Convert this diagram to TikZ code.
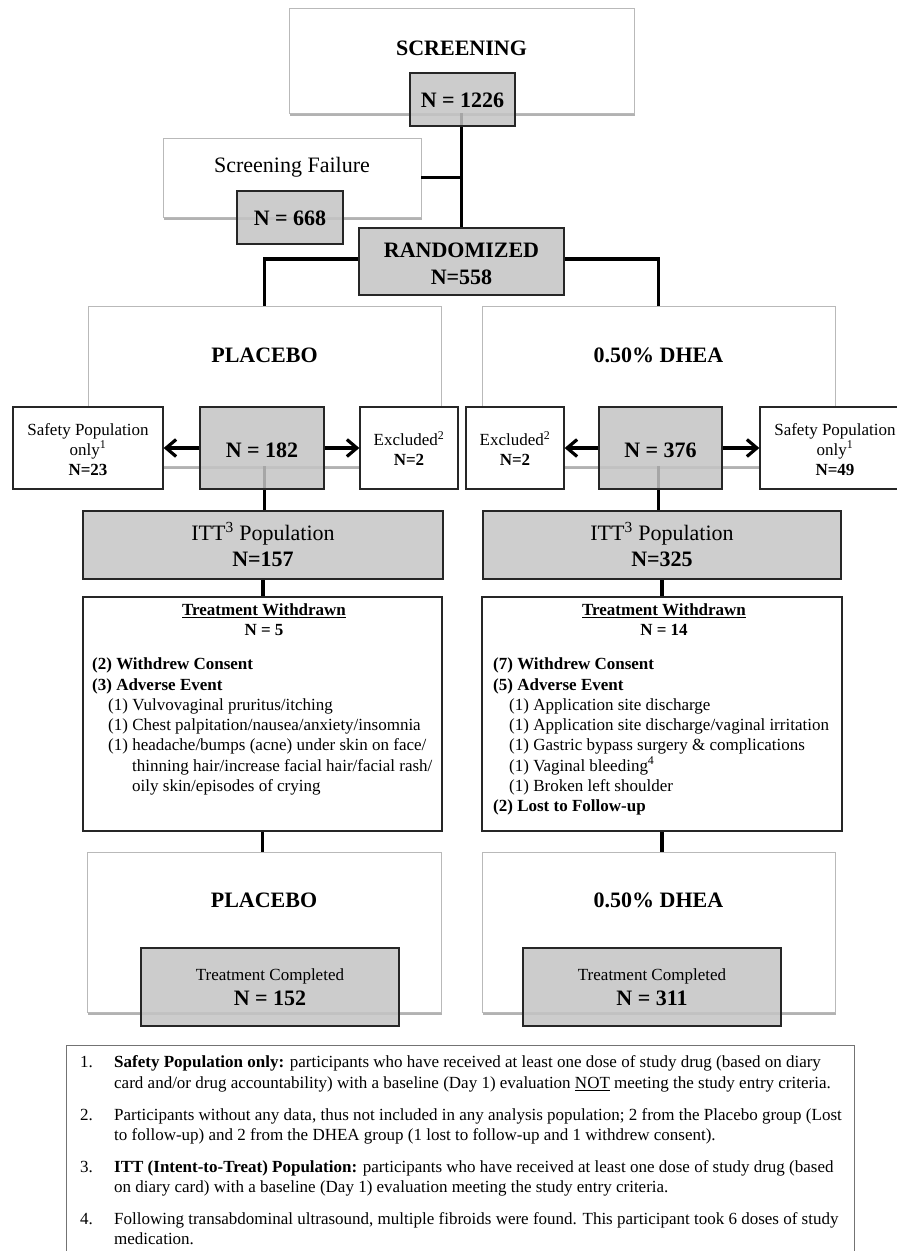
\documentclass[tikz,border=0pt]{standalone}
\usepackage{fontspec}
\setmainfont{Liberation Serif}
\usetikzlibrary{arrows.meta,shadows}
\definecolor{boxgray}{RGB}{196,196,196}
\definecolor{ittgray}{RGB}{206,206,206}
\newcommand\FBig{\fontsize{22}{26}\selectfont}
\newcommand\FMid{\fontsize{17}{20}\selectfont}
\pgfdeclarelayer{paper}
\pgfdeclarelayer{back}
\pgfdeclarelayer{mid}
\pgfsetlayers{paper,back,mid,main}
\begin{document}
\begin{tikzpicture}[x=1pt,y=-1pt,
  bigbox/.style={draw=gray!55, line width=0.8pt, fill=white, inner sep=0pt,
    drop shadow={shadow xshift=1pt, shadow yshift=-2.5pt, fill=black, opacity=0.3}},
  graybox/.style={draw=black!85, line width=1.3pt, fill=boxgray, fill opacity=0.85, inner sep=0pt},
  ittbox/.style={draw=black!85, line width=1.3pt, fill=ittgray, inner sep=0pt},
  whitebox/.style={draw=black!85, line width=1.3pt, fill=white, inner sep=0pt},
  conn/.style={line width=3.2pt, black},
  arr/.style={conn, -{Straight Barb[length=10pt,width=17pt]}},
  txt/.style={inner sep=0pt, anchor=base},
  txtl/.style={inner sep=0pt, anchor=base west},
  big/.style={txt, font=\FBig},
  bigb/.style={txt, font=\FBig\bfseries},
  mid/.style={txt, font=\FMid},
  midb/.style={txt, font=\FMid\bfseries},
  li/.style={txtl, font=\FMid},
  lib/.style={txtl, font=\FMid\bfseries}]
\useasboundingbox (0,0) rectangle (897,1251);
\begin{pgfonlayer}{paper}
\fill[white] (0,0) rectangle (897,1251);
\end{pgfonlayer}

% big shadowed boxes
\begin{pgfonlayer}{back}
\node[bigbox, minimum width=345pt, minimum height=105pt] (scr) at (461.5,60.5) {};
\node[bigbox, minimum width=258pt, minimum height=79pt] (sf) at (292,177.5) {};
\node[bigbox, minimum width=353pt, minimum height=160pt] (plac) at (264.5,386) {};
\node[bigbox, minimum width=353pt, minimum height=160pt] (dhea) at (658.5,386) {};
\node[bigbox, minimum width=354pt, minimum height=160pt] (plac2) at (264,932) {};
\node[bigbox, minimum width=353pt, minimum height=160pt] (dhea2) at (658.5,932) {};
\end{pgfonlayer}

% small boxes
\node[graybox, minimum width=105pt, minimum height=53pt] (n1226) at (462.5,99.5) {};
\node[graybox, minimum width=106pt, minimum height=53pt] (n668) at (290,217.5) {};
\node[graybox, minimum width=205pt, minimum height=67pt] (rand) at (461.5,261.5) {};
\node[graybox, minimum width=124pt, minimum height=82pt] (n182) at (262,448) {};
\node[graybox, minimum width=123pt, minimum height=82pt] (n376) at (660.5,448) {};
\node[ittbox, minimum width=360pt, minimum height=68pt] (itt1) at (263,545) {};
\node[ittbox, minimum width=358pt, minimum height=68pt] (itt2) at (662,545) {};
\node[graybox, minimum width=258pt, minimum height=78pt] (tc1) at (270,987) {};
\node[graybox, minimum width=258pt, minimum height=78pt] (tc2) at (652,987) {};
\node[whitebox, minimum width=150pt, minimum height=82pt] (saf1) at (88,448) {};
\node[whitebox, minimum width=98pt, minimum height=82pt] (exc1) at (409,448) {};
\node[whitebox, minimum width=98pt, minimum height=82pt] (exc2) at (515,448) {};
\node[whitebox, minimum width=150pt, minimum height=82pt] (saf2) at (835,448) {};
\node[whitebox, minimum width=359pt, minimum height=234pt] (wd1) at (262.5,714) {};
\node[whitebox, minimum width=360pt, minimum height=234pt] (wd2) at (662,714) {};
\node[draw=black!55, line width=1pt, inner sep=0pt, minimum width=788pt, minimum height=230pt] (fn) at (460,1160) {};

% connectors
\begin{pgfonlayer}{mid}
\draw[conn] (scr.south) -- (rand.north);
\draw[conn] (sf.east) -- (sf.east -| rand.north);
\draw[conn] ([yshift=2.5pt]rand.west) -| (plac.north);
\draw[conn] ([yshift=2.5pt]rand.east) -| (dhea.north);
\draw[conn] (plac.south) -- (plac.south |- itt1.north);
\draw[conn] (dhea.south) -- (dhea.south |- itt2.north);
\draw[conn] (itt1.south) -- (itt1.south |- wd1.north);
\draw[conn] (itt2.south) -- (itt2.south |- wd2.north);
\draw[conn] (wd1.south) -- (wd1.south |- plac2.north);
\draw[conn] (wd2.south) -- (wd2.south |- dhea2.north);
\end{pgfonlayer}
\draw[arr] (n182.west) -- (saf1.east);
\draw[arr] (n182.east) -- (exc1.west);
\draw[arr] (n376.west) -- (exc2.east);
\draw[arr] (n376.east) -- (saf2.west);

% texts
\node[bigb] (tScr) at (461.5,55.5) {SCREENING};
\node[bigb] (t1226) at (462.5,107) {N = 1226};
\node[big] (tSF) at (292,172.5) {Screening Failure};
\node[bigb] (t668) at (290,225) {N = 668};
\node[bigb] (tRand) at (461.5,257.5) {RANDOMIZED};
\node[bigb] (t558) at (461.5,284.5) {N=558};
\node[bigb] (tPl) at (264.5,362.5) {PLACEBO};
\node[bigb] (tDh) at (658.5,362.5) {0.50\% DHEA};
\node[bigb] (t182) at (262,457) {N = 182};
\node[bigb] (t376) at (660.5,457) {N = 376};
\node[mid] (tS1a) at (88,435) {Safety Population};
\node[mid] (tS1b) at (88,455) {only\textsuperscript{1}};
\node[midb] (tS1c) at (88,475) {N=23};
\node[mid] (tS2a) at (835,435) {Safety Population};
\node[mid] (tS2b) at (835,455) {only\textsuperscript{1}};
\node[midb] (tS2c) at (835,475) {N=49};
\node[mid] (tE1a) at (409,445.5) {Excluded\textsuperscript{2}};
\node[midb] (tE1b) at (409,465.5) {N=2};
\node[mid] (tE2a) at (515,445.5) {Excluded\textsuperscript{2}};
\node[midb] (tE2b) at (515,465.5) {N=2};
\node[big] (tI1a) at (263,540.5) {ITT\textsuperscript{3} Population};
\node[bigb] (tI1b) at (263,566.5) {N=157};
\node[big] (tI2a) at (662,540.5) {ITT\textsuperscript{3} Population};
\node[bigb] (tI2b) at (662,566.5) {N=325};

% withdrawn (placebo)
\node[midb] (w1t) at (264,615.7) {\underline{Treatment Withdrawn}};
\node[midb] (w1n) at (264,635.7) {N = 5};
\node[lib] (w1a) at (92,669.7) {(2) Withdrew Consent};
\node[lib] (w1b) at (92,690) {(3) Adverse Event};
\node[li] (w1c) at (108,710.3) {(1) Vulvovaginal pruritus/itching};
\node[li] (w1d) at (108,730.6) {(1) Chest palpitation/nausea/anxiety/insomnia};
\node[li] (w1e) at (108,750.9) {(1) headache/bumps (acne) under skin on face/};
\node[li] (w1f) at (132,771.2) {thinning hair/increase facial hair/facial rash/};
\node[li] (w1g) at (132,791.5) {oily skin/episodes of crying};

% withdrawn (DHEA)
\node[midb] (w2t) at (664,615.7) {\underline{Treatment Withdrawn}};
\node[midb] (w2n) at (664,635.7) {N = 14};
\node[lib] (w2a) at (493,669.7) {(7) Withdrew Consent};
\node[lib] (w2b) at (493,690) {(5) Adverse Event};
\node[li] (w2c) at (509,710.3) {(1) Application site discharge};
\node[li] (w2d) at (509,730.6) {(1) Application site discharge/vaginal irritation};
\node[li] (w2e) at (509,750.9) {(1) Gastric bypass surgery \& complications};
\node[li] (w2f) at (509,771.2) {(1) Vaginal bleeding\textsuperscript{4}};
\node[li] (w2g) at (509,791.5) {(1) Broken left shoulder};
\node[lib] (w2h) at (493,811.8) {(2) Lost to Follow-up};

% bottom
\node[bigb] (tPl2) at (264,907.5) {PLACEBO};
\node[bigb] (tDh2) at (658.5,907.5) {0.50\% DHEA};
\node[mid] (tC1a) at (270,980.7) {Treatment Completed};
\node[bigb] (tC1b) at (270,1005.5) {N = 152};
\node[mid] (tC2a) at (652,980.7) {Treatment Completed};
\node[bigb] (tC2b) at (652,1005.5) {N = 311};

% footnotes
\node[li] (f1n) at (80,1067.7) {1.};
\node[li] (f1a) at (114,1067.7) {\textbf{Safety Population only:} participants who have received at least one dose of study drug (based on diary};
\node[li] (f1b) at (114,1088.7) {card and/or drug accountability) with a baseline (Day 1) evaluation \underline{NOT} meeting the study entry criteria.};
\node[li] (f2n) at (80,1120) {2.};
\node[li] (f2a) at (114,1120) {Participants without any data, thus not included in any analysis population; 2 from the Placebo group (Lost};
\node[li] (f2b) at (114,1140.7) {to follow-up) and 2 from the DHEA group (1 lost to follow-up and 1 withdrew consent).};
\node[li] (f3n) at (80,1172.7) {3.};
\node[li] (f3a) at (114,1172.7) {\textbf{ITT (Intent-to-Treat) Population:} participants who have received at least one dose of study drug (based};
\node[li] (f3b) at (114,1192.7) {on diary card) with a baseline (Day 1) evaluation meeting the study entry criteria.};
\node[li] (f4n) at (80,1224.7) {4.};
\node[li] (f4a) at (114,1224.7) {Following transabdominal ultrasound, multiple fibroids were found. This participant took 6 doses of study};
\node[li] (f4b) at (114,1244.7) {medication.};
\end{tikzpicture}
\end{document}
